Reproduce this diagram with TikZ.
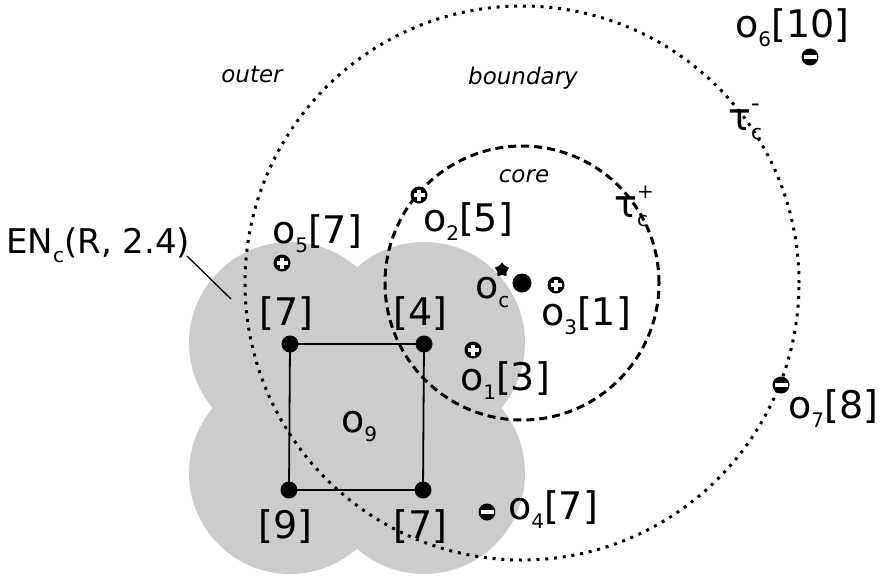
\documentclass[tikz,border=0pt]{standalone}
\usepackage{fontspec}
\setmainfont{DejaVu Sans}
\usepackage{tikz}
\usetikzlibrary{shapes.geometric}

\newcommand{\sbs}[1]{\raisebox{-9pt}{\fontsize{20}{20}\selectfont #1}}
\newcommand{\supsub}[2]{\makebox[0pt][l]{\raisebox{19pt}{\fontsize{24}{24}\selectfont #1}}\sbs{#2}}

\begin{document}
\begin{tikzpicture}[x=1pt, y=-1pt,
  lbl/.style={anchor=base west, inner sep=0pt, font=\fontsize{38}{40}\selectfont},
  zone/.style={anchor=base, inner sep=0pt, font=\fontsize{23}{26}\selectfont\itshape},
  dot/.style={circle, fill=black, inner sep=0pt, minimum size=17pt},
  posmark/.style={circle, fill=black, inner sep=0pt, minimum size=17pt,
    path picture={\draw[white, line width=3.2pt] (path picture bounding box.center) +(-5.5pt,0) -- +(5.5pt,0)
      (path picture bounding box.center) +(0,-5.5pt) -- +(0,5.5pt);}},
  negmark/.style={circle, fill=black, inner sep=0pt, minimum size=17pt,
    path picture={\draw[white, line width=3.5pt] (path picture bounding box.center) +(-6.5pt,0) -- +(6.5pt,0);}},
  ring/.style={line width=3pt, dash pattern=on 3pt off 5.8pt},
  corering/.style={line width=3pt, dash pattern=on 8pt off 5pt}
]
\useasboundingbox (0,0) rectangle (881,579);

% neighbourhood of o9
\fill[black!20] (290,343) circle[radius=101pt] (424,343) circle[radius=101pt]
  (290,473) circle[radius=101pt] (424,473) circle[radius=101pt];

% centre and the two thresholds
\node[dot, minimum size=19pt] (oc) at (522,283) {};
\draw[ring] (oc.center) circle[radius=277pt];
\draw[corering] (oc.center) circle[radius=137pt];
\node[star, star points=5, fill=black, inner sep=0pt, minimum size=15pt] (ocstar) at (502,270) {};

% square of o9
\node[dot] (sqtl) at (290,344) {};
\node[dot] (sqtr) at (424,344) {};
\node[dot] (sqbl) at (289,490) {};
\node[dot] (sqbr) at (423,490) {};
\draw[line width=1.8pt] (sqtl.center) -- (sqtr.center) -- (sqbr.center) -- (sqbl.center) -- cycle;

% objects
\node[posmark] (o1) at (473,350) {};
\node[posmark] (o2) at (419,195) {};
\node[posmark] (o3) at (556,285) {};
\node[negmark] (o4) at (487,512) {};
\node[posmark] (o5) at (282,263) {};
\node[negmark] (o6) at (810,57) {};
\node[negmark] (o7) at (781,385) {};

% labels
\node[lbl] (o1lbl) at (460,390) {o\sbs{1}[3]};
\node[lbl] (o2lbl) at (423,231) {o\sbs{2}[5]};
\node[lbl] (o3lbl) at (541,325) {o\sbs{3}[1]};
\node[lbl] (o4lbl) at (508,519) {o\sbs{4}[7]};
\node[lbl] (o5lbl) at (272,243) {o\sbs{5}[7]};
\node[lbl] (o6lbl) at (735,37) {o\sbs{6}[10]};
\node[lbl] (o7lbl) at (788,418) {o\sbs{7}[8]};
\node[lbl] (oclbl) at (475,298) {o\sbs{c}};
\node[lbl] (o9lbl) at (341,432) {o\sbs{9}};
\node[lbl] (sqtllbl) at (259,325) {[7]};
\node[lbl] (sqtrlbl) at (393,325) {[4]};
\node[lbl] (sqbllbl) at (258,538) {[9]};
\node[lbl] (sqbrlbl) at (393,538) {[7]};
\node[lbl] (taumin) at (728,130) {τ\supsub{-}{c}};
\node[lbl] (taupos) at (614,217) {τ\supsub{\fontsize{20}{20}\selectfont +}{c}};
\node[lbl, font=\fontsize{34}{36}\selectfont] (enlbl) at (6,253) {EN\sbs{c}(R, 2.4)};

\node[zone] (outer) at (252,82) {outer};
\node[zone] (boundary) at (523,84) {boundary};
\node[zone] (core) at (524,182) {core};

% pointer to the neighbourhood
\coordinate (enA) at (187,256);
\coordinate (enB) at (231,299);
\draw[line width=1.3pt] (enA) -- (enB);
\end{tikzpicture}
\end{document}
